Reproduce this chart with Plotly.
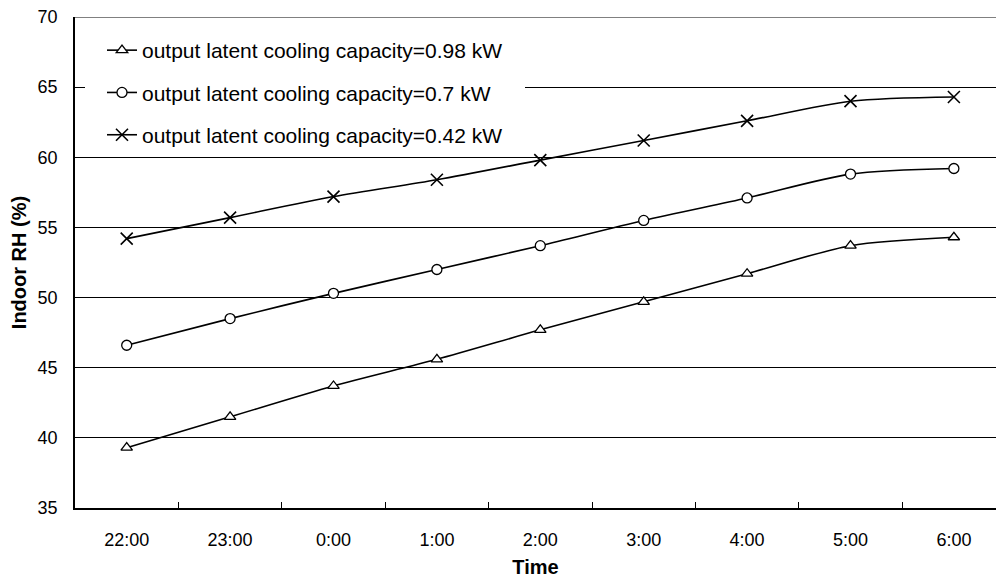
import plotly.graph_objects as go

times = ["22:00", "23:00", "0:00", "1:00", "2:00", "3:00", "4:00", "5:00", "6:00"]
rh_098 = [39.3, 41.5, 43.7, 45.6, 47.7, 49.7, 51.7, 53.7, 54.3]
rh_070 = [46.6, 48.5, 50.3, 52.0, 53.7, 55.5, 57.1, 58.8, 59.2]
rh_042 = [54.2, 55.7, 57.2, 58.4, 59.8, 61.2, 62.6, 64.0, 64.3]
names = ["output latent cooling capacity=0.98 kW",
         "output latent cooling capacity=0.7 kW",
         "output latent cooling capacity=0.42 kW"]
y_ticks = [35, 40, 45, 50, 55, 60, 65, 70]

FONT = "Liberation Sans, Arial, sans-serif"
fig = go.Figure()
series = [(rh_098, "triangle-up", "white", 10, 1.3),
          (rh_070, "circle", "white", 10, 1.3),
          (rh_042, "x-thin", "black", 12, 1.6)]
for i, (vals, sym, fill, sz, lw) in enumerate(series):
    fig.add_trace(go.Scatter(
        x=times, y=vals, name=names[i], mode="lines+markers",
        line=dict(color="black", width=1.6, shape="spline", smoothing=0.8),
        marker=dict(symbol=sym, size=sz, color=fill,
                    line=dict(color="black", width=lw)),
        legendgroup=f"g{i}",
    ))

# white box behind legend (hides gridline like the original)
fig.add_shape(type="rect", xref="paper", yref="paper",
              x0=(85 - 75) / 921, x1=(525 - 75) / 921,
              y0=(508 - 152) / 491, y1=(508 - 25) / 491,
              fillcolor="white", line=dict(width=0), layer="above")
# top border line
fig.add_shape(type="line", xref="paper", yref="y", x0=0, x1=1, y0=70, y1=70,
              line=dict(color="#808080", width=2))

fig.update_layout(
    width=996, height=581,
    margin=dict(l=75, r=0, t=17, b=73),
    paper_bgcolor="white", plot_bgcolor="white",
    font=dict(family=FONT, size=18, color="black"),
    showlegend=True,
    legend=dict(x=(102 - 75) / 921, y=(508 - 30) / 491, xanchor="left", yanchor="top",
                bgcolor="rgba(255,255,255,0)", font=dict(size=21, family=FONT),
                tracegroupgap=12, itemwidth=30, borderwidth=0),
    xaxis=dict(
        type="category", categoryorder="array", categoryarray=times,
        range=[-0.5, -0.5 + 921 / 103.4],
        showline=True, linecolor="black", linewidth=1.5,
        ticks="inside", tickson="boundaries", ticklen=6, tickcolor="black", tickwidth=1.2,
        showgrid=False, tickfont=dict(size=18), ticklabelstandoff=15,
        title=dict(text="<b>Time</b>", font=dict(size=20), standoff=11),
    ),
    yaxis=dict(
        range=[35, 70], tickvals=y_ticks,
        showline=True, linecolor="black", linewidth=1.5,
        showgrid=True, gridcolor="black", gridwidth=1,
        ticks="", tickfont=dict(size=18), zeroline=False, ticklabelstandoff=12,
        title=dict(text="<b>Indoor RH (%)</b>", font=dict(size=20), standoff=6),
    ),
)
fig.write_html("out.html")
